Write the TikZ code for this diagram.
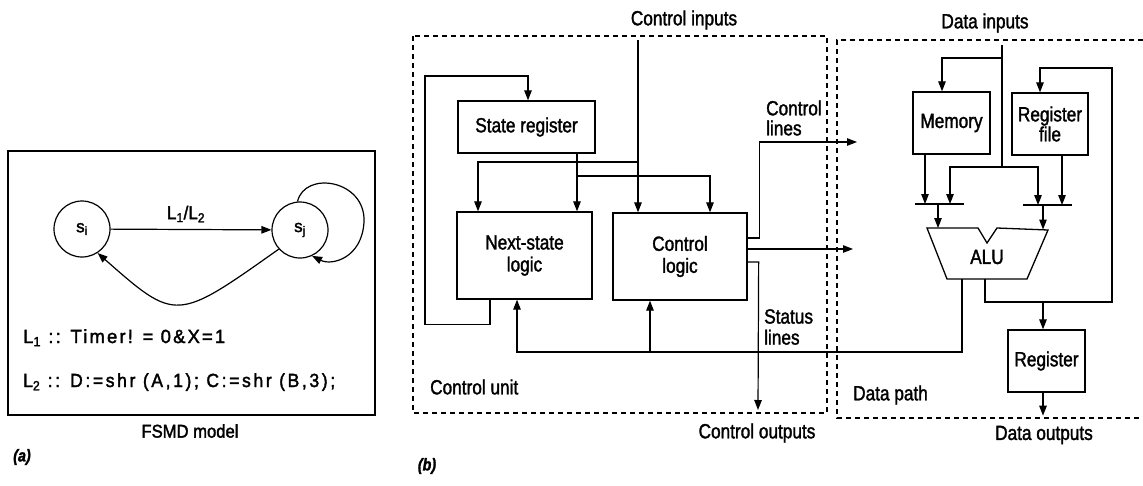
\documentclass[tikz,border=0pt]{standalone}
\usepackage{graphicx}
\usepackage{fontspec}
\setmainfont{Liberation Sans}[FakeStretch=0.84,FakeBold=1.6]
\newfontfamily\afont{Liberation Sans}[FakeBold=2]
\usetikzlibrary{arrows.meta}
\newsavebox\fitbox
\newcommand\fitw[2]{\sbox\fitbox{#2}\scalebox{\fpeval{#1/\the\wd\fitbox}}[1]{\usebox\fitbox}}
\begin{document}
\begin{tikzpicture}[x=1pt,y=-1pt,
  ln/.style={line width=1.2pt},
  arr/.style={line width=1.2pt,-{Triangle[length=10pt,width=7.5pt]}},
  dsh/.style={line width=1.1pt,dash pattern=on 5pt off 4pt},
  blk/.style={draw,line width=1.3pt,inner sep=0pt,align=center,font=\fontsize{20.5}{22}\selectfont},
  lbl/.style={inner sep=0pt,align=left,font=\fontsize{20.5}{21}\selectfont},
  st/.style={circle,draw,line width=1.2pt,minimum size=56pt,inner sep=0pt,font=\afont\fontsize{17}{17}\selectfont},
  atxt/.style={inner sep=0pt,font=\afont\fontsize{19}{19}\selectfont},
  tag/.style={inner sep=0pt,font=\bfseries\itshape\fontsize{17}{17}\selectfont}]
\useasboundingbox (0,0) rectangle (1143,485);
% ---------------- panel (a)
\draw[line width=1.4pt] (8,151) rectangle (375,415);
\node[st] (si) at (82,229) {s\textsubscript{i}};
\node[st] (sj) at (300,230) {s\textsubscript{j}};
\draw[arr] (si) -- (sj);
\node[atxt,font=\afont\fontsize{18.5}{18.5}\selectfont] (l12) at (186,214) {\fitw{38}{L\textsubscript{1}/L\textsubscript{2}}};
\draw[arr] (sj.95) .. controls (305,170) and (366,180) .. (364,222) .. controls (362,258) and (332,266) .. (sj.-65);
\draw[arr] (sj.222) .. controls (176,322) .. (si.-57);
\node[atxt,anchor=base west] (t1) at (23,343)
  {\fitw{202}{\addfontfeatures{LetterSpace=12}L\textsubscript{1} :: Timer! = 0\&X=1}};
\node[atxt,anchor=base west] (t2) at (23,387)
  {\fitw{312}{\addfontfeatures{LetterSpace=15}L\textsubscript{2} :: D:=shr (A,1); C:=shr (B,3);}};
\node[atxt,font=\afont\fontsize{18.5}{18.5}\selectfont] (fsmd) at (190,431) {\fitw{97}{FSMD model}};
\node[tag] (ta) at (22,457) {(a)};
% ---------------- panel (b): control unit
\draw[dsh] (413,36) rectangle (827,413);
\draw[dsh] (1143,40) -- (837,40) -- (837,418) -- (1143,418);
\node[blk,minimum width=137pt,minimum height=52pt] (sr) at (526.5,127) {State register};
\node[blk,minimum width=135pt,minimum height=87pt] (ns) at (524.5,255.5) {Next-state\\logic};
\node[blk,minimum width=134pt,minimum height=87pt] (cl) at (680,256.5) {Control\\logic};
\node[lbl] (ci) at (684,20) {Control inputs};
\coordinate (ciT) at (638,40);
\coordinate (ciJ) at (638,162);
\coordinate (srJ) at (577,176);
\draw[arr] (ciT) -- (ciT |- cl.north);
\draw[arr] (ciJ) -| ([xshift=-46.5pt]ns.north);
\draw[arr] ([xshift=50.5pt]sr.south) -- ([xshift=52.5pt]ns.north);
\draw[arr] (srJ) -| ([xshift=30pt]cl.north);
\draw[arr] ([xshift=-34.5pt]ns.south) -- ++(0,25) -| (425,76) -| ([xshift=1.5pt]sr.north);
% control unit outputs
\coordinate (clT) at (857,142);
\coordinate (clM) at (853,249);
\coordinate (coT) at (758,410);
\draw[arr] ([yshift=18.5pt]cl.east) -- ++(12,0) |- (clT);
\draw[arr] ([yshift=7.5pt]cl.east) -- (clM);
\draw[arr] ([yshift=-5.5pt]cl.east) -- ++(11,0) -- (coT);
\node[lbl,anchor=west,font=\fontsize{20.5}{20}\selectfont] (cll) at (766,118) {Control\\lines};
\node[lbl,anchor=west,font=\fontsize{20.5}{21}\selectfont] (stl) at (764,327) {Status\\lines};
\node[lbl] (co) at (757,433) {Control outputs};
\node[lbl,anchor=west] (cu) at (430,387) {Control unit};
\node[tag] (tb) at (427,466) {(b)};
% ---------------- data path
\node[blk,minimum width=77pt,minimum height=62pt] (mem) at (951.5,123) {Memory};
\node[blk,minimum width=76pt,minimum height=62pt,font=\fontsize{20.5}{20}\selectfont] (rf) at (1050,124) {Register\\file};
\node[blk,minimum width=77pt,minimum height=62pt] (reg) at (1046.5,361) {Register};
\draw[line width=1.3pt] (927,228) coordinate (aluTL) -- (978,228) -- (987,243) -- (997,228) -- (1048,230) coordinate (aluTR)
  -- (1027,279) coordinate (aluBR) -- (947,279) coordinate (aluBL) -- cycle;
\node[lbl] (alu) at (987,257) {ALU};
\node[lbl] (di) at (985,23) {Data inputs};
\node[lbl] (dout) at (1044,435) {Data outputs};
\node[lbl,anchor=west] (dp) at (853,395) {Data path};
% mux bars
\coordinate (muxL1) at (915,204); \coordinate (muxL2) at (964,204);
\coordinate (muxR1) at (1023,205); \coordinate (muxR2) at (1072,205);
\draw[ln] (muxL1) -- (muxL2);
\draw[ln] (muxR1) -- (muxR2);
\coordinate (bL1) at (925,204); \coordinate (bL2) at (950,204);
\coordinate (bR1) at (1038,205); \coordinate (bR2) at (1062,205);
\coordinate (bLo) at (938,204); \coordinate (bRo) at (1043,205);
\coordinate (aluInL) at (938,228); \coordinate (aluInR) at (1043,229.5);
% data inputs
\coordinate (diT) at (1002,45);
\coordinate (diJ1) at (1002,58);
\coordinate (diJ2) at (1002,167);
\draw[ln] (diT) -- (diJ2);
\draw[arr] (diJ1) -| ([xshift=-9.5pt]mem.north);
\draw[arr] (diJ2) -| (bL2);
\draw[arr] (diJ2) -| (bR1);
\draw[arr] (mem.south -| bL1) -- (bL1);
\draw[arr] (rf.south -| bR2) -- (bR2);
\draw[arr] (bLo) -- (aluInL);
\draw[arr] (bRo) -- (aluInR);
% ALU outputs
\coordinate (aluO) at (985,279);
\coordinate (aluS) at (962,279);
\coordinate (rfIn) at (1040,68);
\coordinate (regJ) at (1043,302);
\draw[arr] (aluO) |- (1112,302) |- (rfIn) -- (rfIn |- rf.north);
\draw[arr] (regJ) -- (regJ |- reg.north);
\draw[arr] ([xshift=-3.5pt]reg.south) -- ++(0,23);
% status lines
\coordinate (stJ) at (650,352);
\draw[arr] (aluS) -- (962,352) -| ([xshift=-7.5pt]ns.south);
\draw[arr] (stJ) -- (stJ |- cl.south);
\end{tikzpicture}
\end{document}
